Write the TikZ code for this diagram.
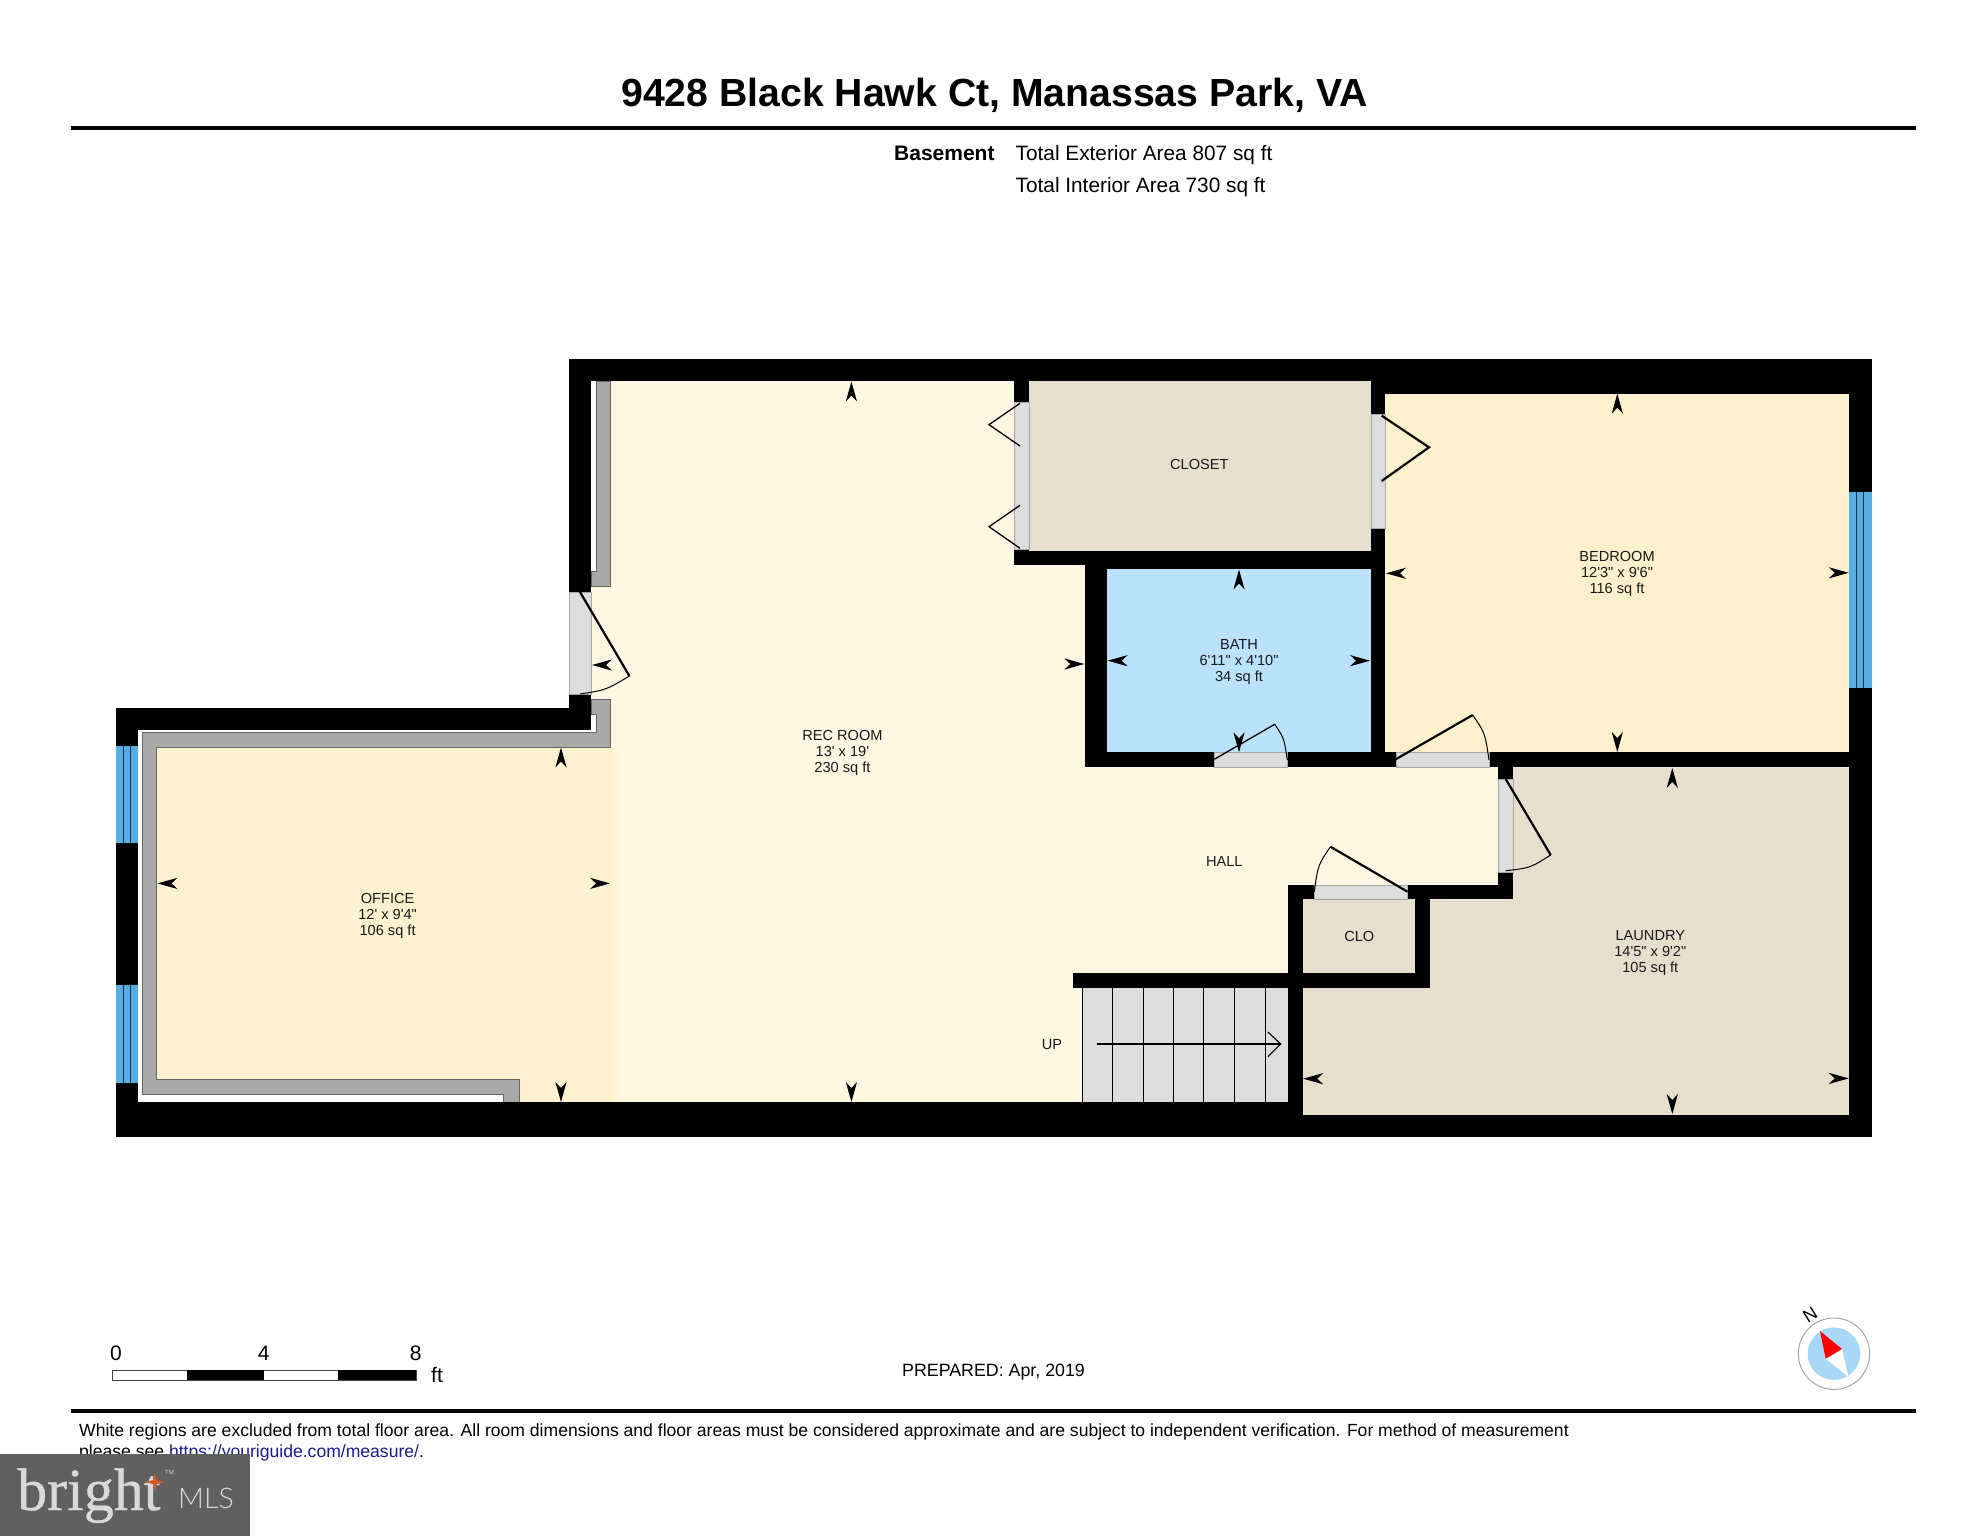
\documentclass[tikz,border=0pt]{standalone}
\usepackage{fontspec}
\setmainfont[Ligatures=TeXOff]{Liberation Sans}
\newfontfamily\logoserif[FakeBold=0.6]{Liberation Serif}
\newfontfamily\logosans{Lato Light}
\definecolor{recc}{HTML}{FFF7E2}
\definecolor{offc}{HTML}{FEF1CF}
\definecolor{bedc}{HTML}{FEF0CC}
\definecolor{lauc}{HTML}{E7DECD}
\definecolor{bathc}{HTML}{BBE2FD}
\definecolor{doorc}{HTML}{DDDDDD}
\definecolor{greyw}{HTML}{A9A9A9}
\definecolor{winc}{HTML}{58AEE2}
\definecolor{linkc}{HTML}{1A1A96}
\tikzset{
  wall/.style={fill=black,draw=none},
  room/.style={draw=none},
  doorgap/.style={fill=doorc,draw=black!35,line width=.4pt},
  leafthick/.style={draw=black,line width=2.2pt},
  leafthin/.style={draw=black,line width=1.3pt},
  swing/.style={draw=black,line width=1pt},
  window/.style={fill=winc,draw=none},
  winline/.style={draw=black!70!winc,line width=1pt},
  roomtext/.style={font=\fontsize{14.6}{16}\selectfont,align=center,inner sep=0pt,text=black!90},
  base/.style={anchor=base west,inner sep=0pt},
}
\newcommand\dimarr[3]{\fill[shift={(#1,#2)},rotate=#3] (0,0)--(-20,5.6)--(-14,0)--(-20,-5.6)--cycle;}
\newcommand\wallr[4]{\fill[wall] (#1,#2) rectangle (#3,#4);}
\begin{document}
\begin{tikzpicture}[x=1pt,y=-1pt]
\useasboundingbox (0,0) rectangle (1987,1536);
\fill[white] (0,0) rectangle (1987,1536);
% header
\node[base,font=\bfseries\fontsize{39.2}{39}\selectfont] (title) at (621,106.7) {9428 Black Hawk Ct, Manassas Park, VA};
\fill[black] (71,126) rectangle (1916,130);
\node[base,font=\bfseries\fontsize{21}{21}\selectfont] (level) at (894,160.5) {Basement};
\node[base,font=\fontsize{20.8}{21}\selectfont] (ext) at (1015.5,160.5) {Total Exterior Area 807 sq ft};
\node[base,font=\fontsize{20.8}{21}\selectfont] (int) at (1015.5,192.7) {Total Interior Area 730 sq ft};
% room fills
\fill[room,fill=recc] (610,381)--(1014.3,381)--(1014.3,565)--(1085,565)--(1085,767.3)--(1498.2,767.3)--(1498.2,884.7)--(1288,884.7)--(1288,973.3)--(1072.5,973.3)--(1072.5,988)--(1082,988)--(1082,1102.3)--(610,1102.3)--cycle;
\fill[room,fill=recc] (591,586) rectangle (611,700);
\fill[room,fill=offc] (156.7,747) rectangle (610.6,1102.3);
\shade[left color=offc,right color=recc] (610,747) rectangle (620,1102.3);
\fill[white] (137.6,1094) rectangle (503,1102.3);
\fill[room,fill=bedc] (1385.3,393.5) rectangle (1849.3,752.3);
\fill[room,fill=lauc] (1513,767.3)--(1849.3,767.3)--(1849.3,1114.5)--(1303,1114.5)--(1303,988)--(1430,988)--(1430,899.3)--(1513,899.3)--cycle;
\fill[room,fill=lauc] (1029.3,381.3) rectangle (1370.7,550.7);
\fill[room,fill=lauc] (1302.9,899.3) rectangle (1415.4,973.3);
\fill[room,fill=bathc] (1107,569.3) rectangle (1370.7,752.3);
% grey inner walls
\path[fill=greyw,draw=black!60,line width=.6pt] (142,1094)--(503,1094)--(503,1102)--(518.8,1102)--(518.8,1079.5)--(156.7,1079.5)--(156.7,747)--(610.6,747)--(610.6,699)--(591,699)--(591,714)--(596,714)--(596,732)--(142,732)--cycle;
\path[fill=greyw,draw=black!60,line width=.6pt] (596,381)--(610.6,381)--(610.6,586)--(591,586)--(591,571)--(596,571)--cycle;
% stairs
\fill[fill=doorc] (1082,988) rectangle (1288,1102.3);
\foreach \sx in {1112.9,1143.2,1173.6,1203.9,1234.6,1265.4}{\draw[black,line width=1.1pt] (\sx,988)--(\sx,1102.3);}
\draw[black,line width=.7pt] (1082,988)--(1082,1102.3);
\draw[black,line width=1.1pt] (1097,1044)--(1280.7,1044);
\draw[black,line width=1.1pt] (1267.9,1032)--(1280.7,1044)--(1267.9,1056.7);
% black walls
\wallr{569}{359}{1871.7}{381.3}
\wallr{1370.7}{381}{1871.7}{393.5}
\wallr{569}{359}{591}{592}
\wallr{569}{694}{591}{729.6}
\wallr{115.5}{707.7}{591}{729.6}
\wallr{115.5}{707.7}{137.6}{1136.5}
\wallr{115.5}{1102.3}{1303}{1136.5}
\wallr{1303}{1114.5}{1871.7}{1136.5}
\wallr{1849.3}{359}{1871.7}{1136.5}
\wallr{1014.3}{381}{1029.3}{402.3}
\wallr{1014.3}{549}{1029.3}{565.3}
\wallr{1029.3}{550.7}{1085}{565.3}
\wallr{1085}{550.7}{1385.3}{569.3}
\wallr{1085}{565}{1107}{767.3}
\wallr{1370.7}{381}{1385.3}{414}
\wallr{1370.7}{528}{1385.3}{767.3}
\wallr{1085}{752.3}{1214.3}{767.3}
\wallr{1287.3}{752.3}{1395.7}{767.3}
\wallr{1489}{752.3}{1849.3}{767.3}
\wallr{1498.2}{767}{1513}{779}
\wallr{1498.2}{871.7}{1513}{899.3}
\wallr{1407.5}{884.7}{1513}{899.3}
\wallr{1287.9}{884.7}{1314.3}{899.3}
\wallr{1287.9}{884.7}{1302.9}{1136.5}
\wallr{1415.4}{899.3}{1430}{988}
\wallr{1072.5}{973.3}{1430}{988}
% windows
\fill[window] (115.5,746.4) rectangle (137.6,843);
\fill[window] (115.5,985) rectangle (137.6,1082.7);
\fill[window] (1849.3,491.6) rectangle (1871.7,687.6);
\foreach \wx in {123.7,130.2}{\draw[winline] (\wx,746.4)--(\wx,843); \draw[winline] (\wx,985)--(\wx,1082.7);}
\foreach \wx in {1856.3,1863.7}{\draw[winline] (\wx,491.6)--(\wx,687.6);}
% door gaps
\path[doorgap] (569,592) rectangle (591,694);
\path[doorgap] (1014.3,402.3) rectangle (1029.3,549);
\path[doorgap] (1370.7,414) rectangle (1385.3,528);
\path[doorgap] (1214.3,752.3) rectangle (1287.3,767.3);
\path[doorgap] (1395.7,752.3) rectangle (1489,767.3);
\path[doorgap] (1498.2,779) rectangle (1513,871.7);
\path[doorgap] (1314.3,884.7) rectangle (1407.5,899.3);
% door leaves and swings
\draw[leafthick] (580,592)--(629.4,676);
\draw[swing] (629.4,676) .. controls (606,690) .. (580,694);
\draw[leafthin] (1020,403.3)--(989,424.7)--(1020,446);
\draw[leafthin] (1020,505.3)--(989,526.7)--(1020,548.3);
\draw[leafthick] (1381.7,415.7)--(1429,447.3)--(1381.7,481);
\draw[leafthin] (1214.3,759.3)--(1274.7,724.3);
\draw[swing] (1274.7,724.3) .. controls (1284,738) .. (1287.3,760);
\draw[leafthick] (1395.7,759.3)--(1472.7,715);
\draw[swing] (1472.7,715) .. controls (1485,733) .. (1489,760);
\draw[leafthick] (1505.7,779)--(1550.7,855);
\draw[swing] (1550.7,855) .. controls (1530,868) .. (1505.7,870.7);
\draw[leafthick] (1407.5,891.7)--(1330.4,846.7);
\draw[swing] (1330.4,846.7) .. controls (1318,865) .. (1314.3,891.7);
% dimension arrowheads
\dimarr{561}{747.5}{90}
\dimarr{561}{1102}{-90}
\dimarr{157.5}{883.4}{180}
\dimarr{610}{883.4}{0}
\dimarr{592}{665}{180}
\dimarr{851.4}{381.5}{90}
\dimarr{851.4}{1102}{-90}
\dimarr{1084.3}{664}{0}
\dimarr{1239}{569.5}{90}
\dimarr{1239}{752.3}{-90}
\dimarr{1107.7}{660.7}{180}
\dimarr{1370}{660.7}{0}
\dimarr{1617.3}{393.7}{90}
\dimarr{1617.3}{752}{-90}
\dimarr{1386}{573.3}{180}
\dimarr{1848.7}{572.8}{0}
\dimarr{1672.3}{768}{90}
\dimarr{1672.3}{1114}{-90}
\dimarr{1303.2}{1078.7}{180}
\dimarr{1848.7}{1078.4}{0}
% room labels
\node[roomtext] (office) at (387.6,916) {OFFICE\\12' x 9'4"\\106 sq ft};
\node[roomtext] (rec) at (842.4,753) {REC ROOM\\13' x 19'\\230 sq ft};
\node[roomtext] (closet) at (1199.3,464.3) {CLOSET};
\node[roomtext] (bath) at (1239,662) {BATH\\6'11" x 4'10"\\34 sq ft};
\node[roomtext] (bedroom) at (1617,574.2) {BEDROOM\\12'3" x 9'6"\\116 sq ft};
\node[roomtext] (hall) at (1224.3,861.3) {HALL};
\node[roomtext] (clo) at (1359.3,936) {CLO};
\node[roomtext] (laundry) at (1650.3,952.5) {LAUNDRY\\14'5" x 9'2"\\105 sq ft};
\node[roomtext] (up) at (1052,1044.5) {UP};
% scale bar
\draw[black!75,line width=.8pt,fill=white] (112.5,1370) rectangle (416,1380);
\fill[black] (186.6,1369.6) rectangle (264.3,1380.4);
\fill[black] (338,1369.6) rectangle (416,1380.4);
\node[anchor=base,inner sep=0pt,font=\fontsize{21}{21}\selectfont] (s0) at (116,1360.7) {0};
\node[anchor=base,inner sep=0pt,font=\fontsize{21}{21}\selectfont] (s4) at (263.8,1360.7) {4};
\node[anchor=base,inner sep=0pt,font=\fontsize{21}{21}\selectfont] (s8) at (415.6,1360.7) {8};
\node[base,font=\fontsize{21}{21}\selectfont] (sft) at (431,1382) {ft};
% prepared
\node[base,font=\fontsize{17.8}{18}\selectfont] (prep) at (902,1376) {PREPARED: Apr, 2019};
% compass
\draw[fill=white,draw=black!35,line width=1pt] (1834,1353.7) circle (35.7);
\fill[fill={rgb,255:red,169;green,216;blue,247}] (1834,1353.7) circle (26.3);
\fill[white] (1842,1349)--(1848.3,1376.7)--(1825.7,1358.7)--cycle;
\fill[red] (1820,1331)--(1842,1349)--(1825.7,1358.7)--cycle;
\node[rotate=32,inner sep=0pt,font=\fontsize{18}{18}\selectfont] (north) at (1810,1315) {N};
% footer
\fill[black] (71,1408.7) rectangle (1916,1412.7);
\node[base,font=\fontsize{17.57}{18}\selectfont] (note1) at (79,1436.7) {White regions are excluded from total floor area. All room dimensions and floor areas must be considered approximate and are subject to independent verification. For method of measurement};
\node[base,font=\fontsize{17.57}{18}\selectfont] (note2) at (79,1457.3) {please see \textcolor{linkc}{https://youriguide.com/measure/}.};
% logo
\fill[fill={rgb,255:red,96;green,96;blue,96}] (0,1454) rectangle (250,1536);
\node[base,text=black!15,font=\logoserif\fontsize{60}{60}\selectfont] (bright) at (17,1510) {bright};
\fill[fill={rgb,255:red,208;green,90;blue,42}] (155,1473)--(157,1480)--(165,1482)--(157,1484)--(155,1491)--(153,1484)--(145,1482)--(153,1480)--cycle;
\node[base,text=black!15,font=\fontsize{6}{6}\selectfont] (tm) at (165,1474) {TM};
\node[base,text=black!15,font=\logosans\fontsize{28.5}{28.5}\selectfont] (mls) at (178,1508) {MLS};
\end{tikzpicture}
\end{document}
